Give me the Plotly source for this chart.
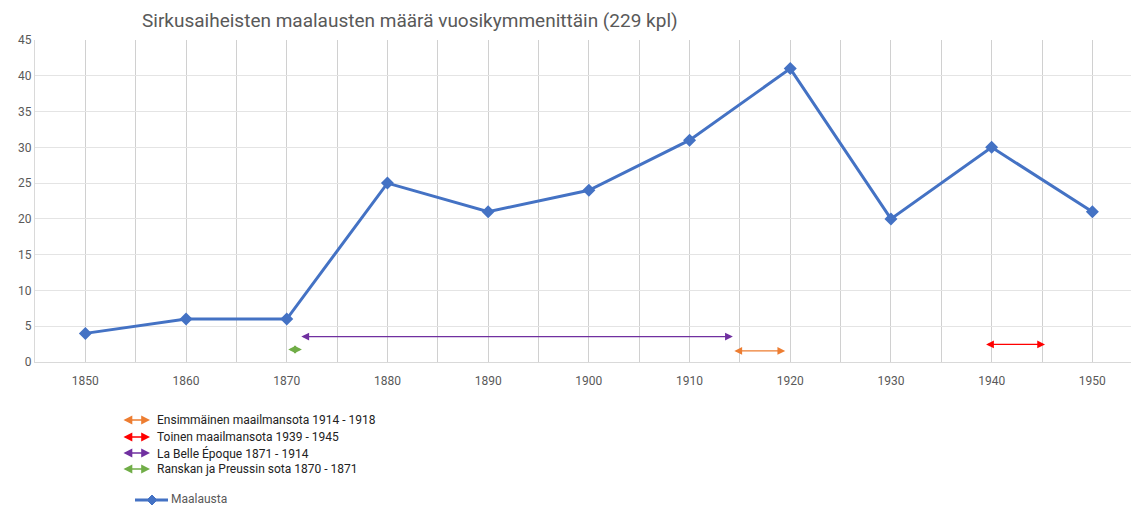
import plotly.graph_objects as go

years = [1850, 1860, 1870, 1880, 1890, 1900, 1910, 1920, 1930, 1940, 1950]
paintings = [4, 6, 6, 25, 21, 24, 31, 41, 20, 30, 21]

period_names = ["Ensimmäinen maailmansota 1914 - 1918",
                "Toinen maailmansota 1939 - 1945",
                "La Belle Époque 1871 - 1914",
                "Ranskan ja Preussin sota 1870 - 1871"]
period_colors = ["#ED7D31", "#FF0000", "#7030A0", "#70AD47"]
period_start = [1914.3, 1939.3, 1871.3, 1870.0]
period_end = [1919.5, 1945.3, 1914.3, 1871.5]
period_level = [1.55, 2.45, 3.55, 1.75]

OFF = 8  # default page body margin
W, H = 1139 - OFF, 506 - OFF
ML, MT = 35 - OFF, 40 - OFF
MR = W - (1138 - OFF)
MB = H - (362 - OFF)
PW, PH = W - ML - MR, H - MT - MB

def px(xp):
    return (xp - OFF - ML) / PW

def py(yp):
    return (H - MB - (yp - OFF)) / PH

fig = go.Figure()
fig.add_trace(go.Scatter(
    x=years, y=paintings, mode="lines+markers", name="Maalausta",
    line=dict(color="#4472C4", width=3),
    marker=dict(symbol="diamond", size=10, color="#4472C4"),
    showlegend=False,
))

annotations = []
for name, col, s, e, lv in zip(period_names, period_colors, period_start, period_end, period_level):
    annotations.append(dict(
        x=e, y=lv, ax=s, ay=lv, xref="x", yref="y", axref="x", ayref="y",
        showarrow=True, arrowhead=2, arrowside="end+start", arrowsize=1.2,
        arrowwidth=1.3, arrowcolor=col, text="", standoff=0, startstandoff=0,
    ))

legend_y = [420, 437, 453, 469]
for name, col, ly in zip(period_names, period_colors, legend_y):
    annotations.append(dict(
        x=px(150), y=py(ly), xref="paper", yref="paper",
        ax=-28, ay=0, axref="pixel", ayref="pixel",
        showarrow=True, arrowhead=2, arrowside="end+start", arrowsize=1.1,
        arrowwidth=1.6, arrowcolor=col, text="",
    ))
    annotations.append(dict(
        x=px(155), y=py(ly), xref="paper", yref="paper", showarrow=False,
        text=name, xanchor="left", yanchor="middle",
        font=dict(size=12, color="#222222", family="Roboto"),
    ))

annotations.append(dict(
    x=px(169), y=py(499), xref="paper", yref="paper", showarrow=False,
    text="Maalausta", xanchor="left", yanchor="middle",
    font=dict(size=12, color="#595959", family="Roboto"),
))

annotations.append(dict(
    x=px(140), y=py(20), xref="paper", yref="paper", showarrow=False,
    text="Sirkusaiheisten maalausten määrä vuosikymmenittäin (229 kpl)",
    xanchor="left", yanchor="middle",
    font=dict(size=19, color="#595959", family="Roboto"),
))

shapes = [
    dict(type="line", xref="paper", yref="paper", x0=px(135), x1=px(168),
         y0=py(500), y1=py(500), line=dict(color="#4472C4", width=3)),
    dict(type="path", xref="paper", yref="paper", xsizemode="pixel", ysizemode="pixel",
         xanchor=px(152), yanchor=py(500), path="M -5,0 L 0,5 L 5,0 L 0,-5 Z",
         fillcolor="#4472C4", line=dict(color="#4472C4", width=1)),
]

fig.update_layout(
    width=W, height=H,
    margin=dict(l=ML, r=MR, t=MT, b=MB, autoexpand=False),
    paper_bgcolor="white", plot_bgcolor="white",
    font=dict(family="Roboto", size=12, color="#595959"),
    showlegend=False,
    annotations=annotations,
    shapes=shapes,
)
fig.update_xaxes(range=[1845, 1845 + PW / 10.07], tickvals=years,
                 zeroline=False, ticks="", automargin=False,
                 tickfont=dict(size=12, color="#595959"),
                 minor=dict(dtick=5, tick0=1845, showgrid=True, gridcolor="#d0d0d0", gridwidth=1),
                 showgrid=True, gridcolor="#d0d0d0", gridwidth=1,
                 showline=True, linecolor="#d9d9d9", linewidth=1,
                 ticklabelstandoff=8)
fig.update_yaxes(range=[0, 45], dtick=5, showgrid=True, gridcolor="#e4e4e4",
                 zeroline=False, showline=True, linecolor="#d9d9d9", linewidth=1,
                 ticks="", automargin=False, tickfont=dict(size=12, color="#595959"))

fig.write_html("out.html")
